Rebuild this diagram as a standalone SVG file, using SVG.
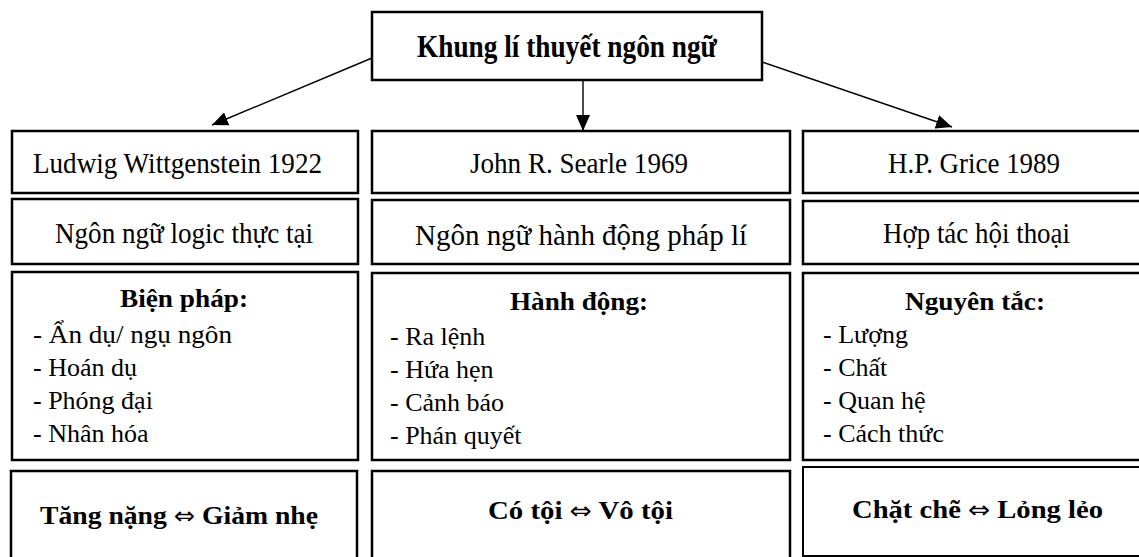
<svg xmlns="http://www.w3.org/2000/svg" width="1139" height="557" viewBox="0 0 1139 557">
<defs>
<style>
.box{fill:#fff;stroke:#000;stroke-width:2.5}
.t{font-family:"Liberation Serif","Times New Roman",serif;fill:#000}
.r{font-size:30px}
.r2{font-size:29px}
.l{font-size:26px}
.b{font-weight:bold;font-size:26px}
.ti{font-weight:bold;font-size:31px}
.arr{font-family:"DejaVu Sans",sans-serif;font-weight:normal;font-size:24px}
.conn{stroke:#000;stroke-width:1.4;fill:none}
</style>
<marker id="ah" markerUnits="userSpaceOnUse" markerWidth="18" markerHeight="14" refX="16" refY="7" orient="auto">
<path d="M0,0 L16,7 L0,14 Z" fill="#000"/>
</marker>
</defs>
<rect width="1139" height="557" fill="#fff"/>
<g id="connectors">
<line class="conn" x1="372" y1="58" x2="212" y2="125" marker-end="url(#ah)"/>
<line class="conn" x1="583" y1="80" x2="583" y2="131" marker-end="url(#ah)"/>
<line class="conn" x1="762" y1="62" x2="952" y2="127" marker-end="url(#ah)"/>
</g>
<g id="root">
<rect class="box" x="372" y="12" width="390" height="68"/>
<text class="t ti" x="417" y="57" textLength="300" lengthAdjust="spacingAndGlyphs">Khung lí thuyết ngôn ngữ</text>
</g>
<g id="wittgenstein">
<rect class="box" x="12" y="131" width="346" height="62"/>
<text class="t r" x="33" y="173" textLength="289" lengthAdjust="spacingAndGlyphs">Ludwig Wittgenstein 1922</text>
</g>
<g id="searle">
<rect class="box" x="372" y="131" width="418" height="62"/>
<text class="t r" x="470" y="173" textLength="218" lengthAdjust="spacingAndGlyphs">John R. Searle 1969</text>
</g>
<g id="grice">
<rect class="box" x="803" y="131" width="345" height="62"/>
<text class="t r" x="888" y="173" textLength="172" lengthAdjust="spacingAndGlyphs">H.P. Grice 1989</text>
</g>
<g id="logic">
<rect class="box" x="12" y="199" width="346" height="65"/>
<text class="t r2" x="55" y="243" textLength="258" lengthAdjust="spacingAndGlyphs">Ngôn ngữ logic thực tại</text>
</g>
<g id="phapli">
<rect class="box" x="372" y="200" width="418" height="64"/>
<text class="t r2" x="415" y="245" textLength="332" lengthAdjust="spacingAndGlyphs">Ngôn ngữ hành động pháp lí</text>
</g>
<g id="hoithoai">
<rect class="box" x="803" y="201" width="345" height="63"/>
<text class="t r2" x="883" y="243" textLength="187" lengthAdjust="spacingAndGlyphs">Hợp tác hội thoại</text>
</g>
<g id="bienphap">
<rect class="box" x="12" y="272" width="346" height="188"/>
<text class="t b" x="120" y="307" textLength="128" lengthAdjust="spacingAndGlyphs">Biện pháp:</text>
<text class="t l" x="33" y="343" textLength="199" lengthAdjust="spacingAndGlyphs">- Ẩn dụ/ ngụ ngôn</text>
<text class="t l" x="33" y="376">- Hoán dụ</text>
<text class="t l" x="33" y="409">- Phóng đại</text>
<text class="t l" x="33" y="442">- Nhân hóa</text>
</g>
<g id="hanhdong">
<rect class="box" x="372" y="273" width="418" height="187"/>
<text class="t b" x="510" y="310" textLength="138" lengthAdjust="spacingAndGlyphs">Hành động:</text>
<text class="t l" x="390" y="345">- Ra lệnh</text>
<text class="t l" x="390" y="378">- Hứa hẹn</text>
<text class="t l" x="390" y="411">- Cảnh báo</text>
<text class="t l" x="390" y="444">- Phán quyết</text>
</g>
<g id="nguyentac">
<rect class="box" x="803" y="273" width="345" height="187"/>
<text class="t b" x="905" y="310" textLength="140" lengthAdjust="spacingAndGlyphs">Nguyên tắc:</text>
<text class="t l" x="823" y="343">- Lượng</text>
<text class="t l" x="823" y="376">- Chất</text>
<text class="t l" x="823" y="409">- Quan hệ</text>
<text class="t l" x="823" y="442">- Cách thức</text>
</g>
<g id="tangnang">
<rect class="box" x="11" y="471" width="346" height="100"/>
<text class="t b" x="40" y="524" textLength="278" lengthAdjust="spacingAndGlyphs">Tăng nặng <tspan class="arr">⇔</tspan> Giảm nhẹ</text>
</g>
<g id="coToi">
<rect class="box" x="372" y="471" width="418" height="100"/>
<text class="t b" x="488" y="519" textLength="185" lengthAdjust="spacingAndGlyphs">Có tội <tspan class="arr">⇔</tspan> Vô tội</text>
</g>
<g id="chatche">
<rect class="box" x="803" y="467" width="345" height="89" style="stroke-width:2"/>
<text class="t b" x="852" y="518" textLength="251" lengthAdjust="spacingAndGlyphs">Chặt chẽ <tspan class="arr">⇔</tspan>  Lỏng lẻo</text>
</g>
</svg>
